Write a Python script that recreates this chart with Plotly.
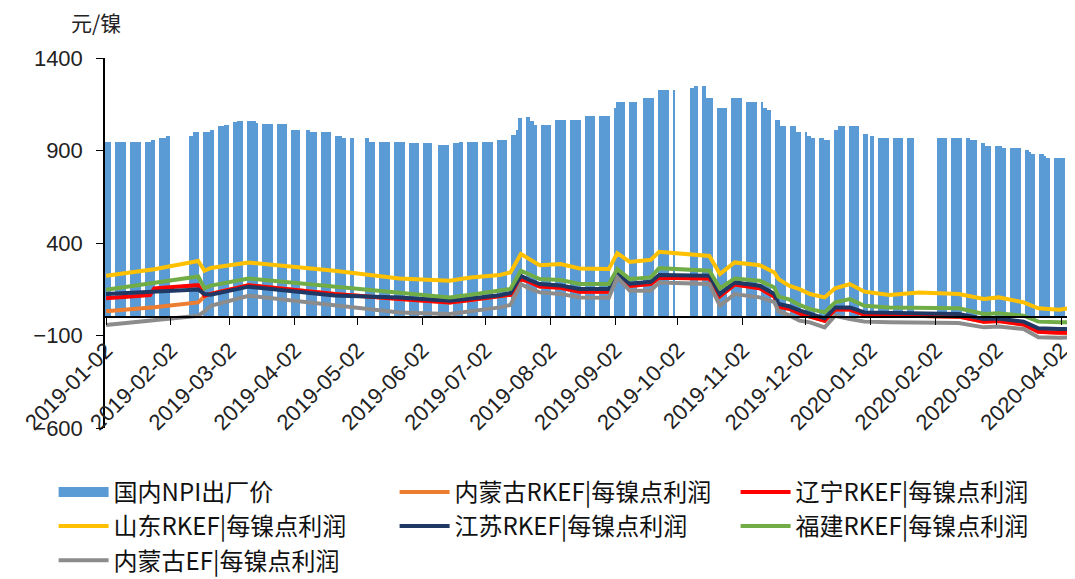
import pandas as pd
import plotly.graph_objects as go

# 国内NPI出厂价（元/镍）：每次调价的日期与新价格
npi_steps = [
    ("2019-01-02", 947), ("2019-01-24", 955), ("2019-01-28", 968), ("2019-01-31", 977),
    ("2019-02-11", 980), ("2019-02-13", 1000), ("2019-02-21", 1010), ("2019-02-25", 1030),
    ("2019-02-28", 1040), ("2019-03-04", 1052), ("2019-03-06", 1062), ("2019-03-15", 1050),
    ("2019-03-18", 1044), ("2019-04-01", 1010), ("2019-04-10", 1000), ("2019-04-22", 980),
    ("2019-04-25", 968), ("2019-05-08", 947), ("2019-05-27", 941), ("2019-06-10", 932),
    ("2019-06-17", 938), ("2019-06-20", 945), ("2019-07-08", 956), ("2019-07-15", 986),
    ("2019-07-17", 1010), ("2019-07-18", 1076), ("2019-07-22", 1083), ("2019-07-24", 1060),
    ("2019-07-26", 1040), ("2019-08-05", 1063), ("2019-08-19", 1085), ("2019-09-02", 1130),
    ("2019-09-03", 1160), ("2019-09-16", 1182), ("2019-09-23", 1225), ("2019-10-08", 1238),
    ("2019-10-10", 1247), ("2019-10-16", 1182), ("2019-10-21", 1130), ("2019-10-28", 1182),
    ("2019-11-04", 1160), ("2019-11-12", 1130), ("2019-11-14", 1121), ("2019-11-18", 1067),
    ("2019-11-20", 1031), ("2019-11-28", 1000), ("2019-12-03", 977), ("2019-12-05", 968),
    ("2019-12-11", 955), ("2019-12-16", 1010), ("2019-12-18", 1031), ("2019-12-30", 990),
    ("2020-01-02", 977), ("2020-01-06", 968), ("2020-02-19", 955), ("2020-02-24", 941),
    ("2020-02-26", 923), ("2020-03-05", 914), ("2020-03-16", 902), ("2020-03-18", 890),
    ("2020-03-19", 882), ("2020-03-25", 870), ("2020-03-26", 860),
]

# 无报价的工作日（节假日等）
no_quote_days = [
    "2019-02-04", "2019-02-05", "2019-02-06", "2019-02-07", "2019-02-08",
    "2019-04-05", "2019-05-01", "2019-05-02", "2019-05-03", "2019-06-07",
    "2019-09-13", "2019-10-01", "2019-10-02", "2019-10-03", "2019-10-04",
    "2019-10-07", "2020-01-01", "2020-01-23", "2020-01-24", "2020-01-27",
    "2020-01-28", "2020-01-29", "2020-01-30", "2020-01-31",
]

# 每镍点利润（元/镍）
profit_dates = [
    "2019-01-02", "2019-01-23", "2019-01-25", "2019-02-15", "2019-02-18", "2019-02-21",
    "2019-03-11", "2019-04-21", "2019-05-22", "2019-06-15", "2019-06-25", "2019-07-09",
    "2019-07-14", "2019-07-19", "2019-07-23", "2019-07-28", "2019-08-07", "2019-08-16",
    "2019-08-30", "2019-09-03", "2019-09-09", "2019-09-19", "2019-09-23", "2019-10-17",
    "2019-10-22", "2019-10-29", "2019-11-10", "2019-11-17", "2019-11-19", "2019-11-24",
    "2019-11-29", "2019-12-04", "2019-12-11", "2019-12-16", "2019-12-23", "2019-12-30",
    "2020-01-11", "2020-01-25", "2020-02-13", "2020-02-25", "2020-03-03", "2020-03-15",
    "2020-03-22", "2020-04-01", "2020-04-08",
]
nmg_rkef = [31, 50, 53, 79, 112, 125, 172, 124, 97, 79, 92, 110, 120, 205, 190, 165, 158,
            137, 137, 222, 168, 178, 212, 208, 112, 175, 155, 110, 55, 45, 20, 2, -20, 40,
            40, 12, 8, 8, 2, -25, -22, -40, -80, -85, -85]
ln_rkef = [101, 118, 155, 172, 115, 125, 172, 124, 97, 79, 92, 110, 120, 205, 190, 165, 158,
           137, 137, 222, 168, 178, 212, 208, 112, 175, 155, 110, 55, 45, 20, 2, -20, 40,
           40, 12, 8, 8, 2, -25, -22, -40, -80, -85, -85]
sd_rkef = [223, 255, 258, 303, 250, 265, 295, 250, 208, 196, 214, 227, 241, 340, 313, 280,
           286, 262, 259, 345, 298, 309, 352, 330, 232, 295, 280, 241, 205, 169, 151, 124,
           106, 155, 178, 137, 119, 133, 124, 97, 106, 79, 47, 39, 52]
js_rkef = [124, 135, 138, 148, 124, 120, 164, 116, 105, 88, 100, 118, 130, 223, 200, 178,
           170, 151, 151, 235, 180, 190, 227, 223, 124, 187, 169, 125, 70, 58, 36, 16, -7,
           52, 52, 25, 22, 22, 16, -11, -8, -25, -61, -65, -65]
fj_rkef = [147, 180, 183, 219, 155, 170, 208, 165, 128, 106, 120, 142, 152, 250, 230, 205,
           200, 178, 178, 259, 205, 214, 264, 250, 155, 208, 196, 160, 110, 95, 65, 43, 25,
           79, 97, 61, 52, 52, 47, 16, 20, 7, -25, -29, -29]
nmg_ef = [-43, -20, -18, 7, 30, 61, 115, 61, 25, 16, 30, 52, 65, 178, 155, 133, 125, 106,
          104, 214, 142, 142, 187, 178, 61, 124, 106, 80, 30, 10, -20, -29, -56, 7, -11, -25,
          -29, -29, -32, -56, -52, -65, -110, -112, -110]

tick_dates = ["2019-01-02", "2019-02-02", "2019-03-02", "2019-04-02", "2019-05-02",
              "2019-06-02", "2019-07-02", "2019-08-02", "2019-09-02", "2019-10-02",
              "2019-11-02", "2019-12-02", "2020-01-02", "2020-02-02", "2020-03-02",
              "2020-04-02"]

# daily quotes: each trading day carries the latest announced price
quote_days = pd.bdate_range("2019-01-02", "2020-04-08")
quote_days = quote_days[~quote_days.isin(pd.to_datetime(no_quote_days))]
steps = pd.Series([v for _, v in npi_steps], index=pd.to_datetime([d for d, _ in npi_steps]))
npi_price = steps.reindex(quote_days, method="ffill")

bar_color = "#5B9BD5"
fig = go.Figure()
fig.add_trace(go.Bar(x=quote_days, y=npi_price.values, name="国内NPI出厂价",
                     marker=dict(color=bar_color, line_width=0), showlegend=False,
                     legendgroup="npi"))
# wide swatch for the bar series in the legend
fig.add_trace(go.Scatter(x=[None], y=[None], name="国内NPI出厂价", mode="lines",
                         line=dict(color=bar_color, width=14), legendgroup="npi"))

series = [
    ("内蒙古RKEF|每镍点利润", nmg_rkef, "#ED7D31"),
    ("辽宁RKEF|每镍点利润", ln_rkef, "#FF0000"),
    ("山东RKEF|每镍点利润", sd_rkef, "#FFC000"),
    ("江苏RKEF|每镍点利润", js_rkef, "#1F3864"),
    ("福建RKEF|每镍点利润", fj_rkef, "#70AD47"),
    ("内蒙古EF|每镍点利润", nmg_ef, "#8C8C8C"),
]
for name, vals, color in series:
    fig.add_trace(go.Scatter(x=profit_dates, y=vals, name=name, mode="lines",
                             line=dict(color=color, width=4)))

tick_font = dict(family="Liberation Sans, Arial, sans-serif", size=22, color="#222")
cjk_font = "Noto Sans CJK SC, sans-serif"

# the page body adds an 8px offset, so the figure is 8px smaller than the window
fig.update_layout(
    width=1067, height=571,
    margin=dict(l=97, r=0, t=50, b=151, autoexpand=False),
    plot_bgcolor="white", paper_bgcolor="white",
    bargap=0,
    legend=dict(orientation="h", x=-0.053, y=-0.113, xanchor="left", yanchor="top",
                entrywidth=276, entrywidthmode="pixels", itemwidth=50,
                tracegroupgap=0,
                font=dict(family=cjk_font, size=24, color="#111")),
    annotations=[dict(text="元/镍", xref="paper", yref="paper", x=-0.009, y=1.097,
                      xanchor="center", yanchor="middle", showarrow=False,
                      font=dict(family=cjk_font, size=21, color="#222"))],
)
fig.update_xaxes(
    type="date", range=["2019-01-01 12:00", "2020-04-08 12:00"],
    tickvals=tick_dates, tickformat="%Y-%m-%d", tickangle=-45, tickfont=tick_font,
    anchor="free", position=0.3, showline=True, linecolor="black", linewidth=1.5,
    ticks="outside", ticklen=7, tickcolor="black", showgrid=False, zeroline=False,
    ticklabelstandoff=4,
)
fig.update_yaxes(
    range=[-600, 1400], tick0=-600, dtick=500, tickfont=tick_font,
    showline=True, linecolor="black", linewidth=1.5, ticks="outside", ticklen=7,
    tickcolor="black", showgrid=False, zeroline=False, ticklabelstandoff=9,
)

fig.write_html("out.html")
